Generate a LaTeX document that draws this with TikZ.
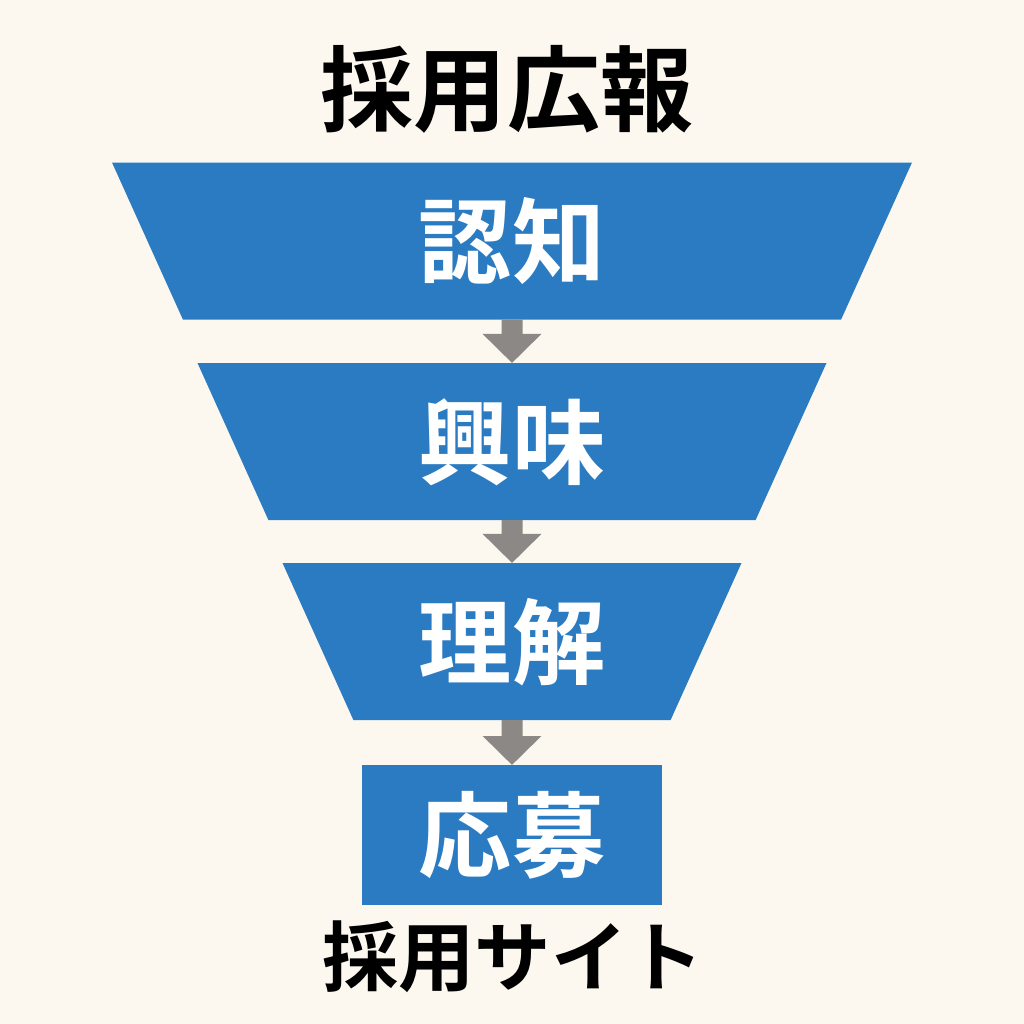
\documentclass[tikz,border=0pt]{standalone}
\usepackage{fontspec}
\usepackage{xcolor}
\usetikzlibrary{shapes.geometric,arrows.meta}
\newfontfamily\jpfont{Noto Sans CJK JP}[BoldFont={Noto Sans CJK JP Bold}]
\definecolor{paper}{HTML}{FCF8EF}
\definecolor{funnelblue}{HTML}{2A7BC1}
\definecolor{arrowgray}{HTML}{8C8885}
\tikzset{
  stage/.style={trapezium, trapezium stretches body=true, trapezium angle=65.7,
    shape border rotate=180, fill=funnelblue, outer sep=0pt, inner sep=0pt,
    text height=1.14cm, text depth=0.43cm, minimum height=1.57cm, text=white,
    font=\jpfont\bfseries\fontsize{26.5}{30}\selectfont},
  goal/.style={rectangle, fill=funnelblue, outer sep=0pt, inner sep=0pt,
    minimum width=3cm, minimum height=1.4cm, text=white,
    font=\jpfont\bfseries\fontsize{26.5}{30}\selectfont},
  heading/.style={font=\jpfont\bfseries\fontsize{26.5}{30}\selectfont},
  flow/.style={arrowgray, line width=2.1mm,
    -{Triangle[width=5.7mm,length=2.9mm]}}
}
\begin{document}
\begin{tikzpicture}
      \fill[paper] (0,0) rectangle (10.24,-10.24);
      \useasboundingbox (0,0) rectangle (10.24,-10.24);
      \node[heading] (title) at (5.07,-0.89) {採用広報};
      \foreach \n/\t/\y/\w in
      { s1/{認知}/2.41/8.00,
        s2/{興味}/4.415/6.29,
        s3/{理解}/6.415/4.59
      }
      \node[stage, minimum width=\w cm] (\n) at (5.12,-\y) {\t};
      \node[goal] (s4) at (5.12,-8.35) {応募};
      \node[heading, font=\jpfont\bfseries\fontsize{21.7}{26}\selectfont]
        (site) at (5.13,-9.57) {採用サイト};
      \foreach \a/\b in {s1/s2, s2/s3, s3/s4}
      \draw[flow] (\a) -- (\b);
    \end{tikzpicture}
\end{document}
